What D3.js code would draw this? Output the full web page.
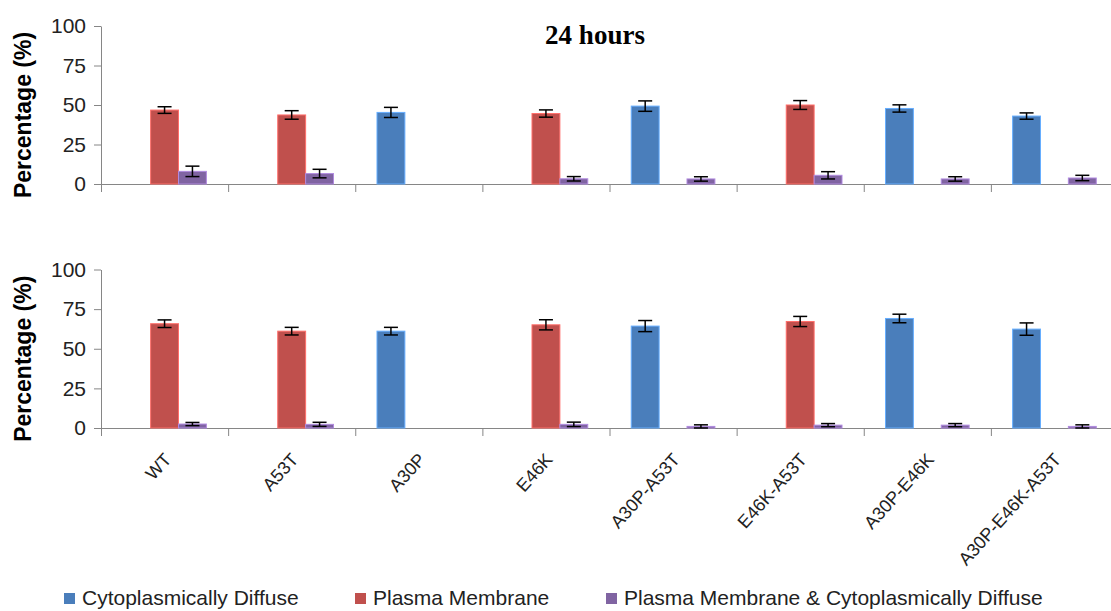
<!DOCTYPE html>
<html>
<head>
<meta charset="utf-8">
<script src="https://cdn.jsdelivr.net/npm/d3@7"></script>
<style>
  body { margin: 0; background: #fff; }
  svg { display: block; }
</style>
</head>
<body>
<div id="chart"></div>
<script>
const categories = ["WT", "A53T", "A30P", "E46K", "A30P-A53T", "E46K-A53T", "A30P-E46K", "A30P-E46K-A53T"];
const seriesNames = ["Cytoplasmically Diffuse", "Plasma Membrane", "Plasma Membrane & Cytoplasmically Diffuse"];
const seriesColors = ["#4a7ebb", "#c0504d", "#8064a2"];
const yTicks = [0, 25, 50, 75, 100];

// 24 hours (top panel)
const topDiffuse     = [null, null, 45.3, null, 49.3, null, 47.8, 43.0];
const topDiffuseErr  = [null, null, 3.2, null, 3.3, null, 2.3, 2.0];
const topMembrane    = [46.8, 43.7, null, 44.6, null, 50.0, null, null];
const topMembraneErr = [2.1, 2.7, null, 2.3, null, 2.8, null, null];
const topBoth        = [8.0, 6.6, null, 3.3, 3.2, 5.5, 3.2, 3.8];
const topBothErr     = [3.3, 2.7, null, 1.4, 1.4, 2.3, 1.4, 1.7];

// bottom panel
const botDiffuse     = [null, null, 61.1, null, 64.3, null, 69.1, 62.4];
const botDiffuseErr  = [null, null, 2.4, null, 3.5, null, 2.7, 3.9];
const botMembrane    = [65.8, 61.1, null, 65.1, null, 67.2, null, null];
const botMembraneErr = [2.4, 2.4, null, 3.2, null, 3.2, null, null];
const botBoth        = [2.5, 2.3, null, 2.3, 1.0, 1.8, 1.8, 1.0];
const botBothErr     = [1.0, 1.3, null, 1.4, 1.0, 1.0, 1.0, 1.0];

const width = 1111, height = 611;
const left = 101, right = 1118;
const axisColor = "#868686";

const svg = d3.select("#chart").append("svg")
  .attr("width", width)
  .attr("height", height);

const x = d3.scaleBand()
  .domain(categories)
  .range([left, right]);

const xSub = d3.scaleBand()
  .domain(d3.range(seriesNames.length))
  .range([0, x.bandwidth()])
  .paddingInner(0)
  .paddingOuter(0.78);

const xIdx = d3.scaleLinear()
  .domain([0, categories.length])
  .range([left, right]);

function drawPanel(yRange, values, errors) {
  const y = d3.scaleLinear().domain([0, 100]).range(yRange);
  const g = svg.append("g");

  // Y axis
  const yAxis = g.append("g")
    .attr("transform", "translate(" + left + ",0)")
    .call(d3.axisLeft(y).tickValues(yTicks).tickSize(7).tickSizeOuter(0).tickPadding(8));
  yAxis.select(".domain").attr("stroke", axisColor);
  yAxis.selectAll(".tick line").attr("stroke", axisColor);
  yAxis.selectAll("text")
    .attr("font-family", "Liberation Sans, Arial, sans-serif")
    .attr("font-size", 21)
    .attr("fill", "#222");

  // X axis (ticks at category boundaries)
  const xAxis = g.append("g")
    .attr("transform", "translate(0," + y(0) + ")")
    .call(d3.axisBottom(xIdx).tickValues(d3.range(categories.length)).tickSize(8).tickSizeOuter(0).tickFormat(""));
  xAxis.select(".domain").attr("stroke", axisColor);
  xAxis.selectAll(".tick line").attr("stroke", axisColor);

  // bars
  const rows = [];
  values.forEach((arr, s) => {
    arr.forEach((v, i) => {
      if (v !== null) rows.push({ cat: categories[i], s: s, v: v, e: errors[s][i] });
    });
  });

  g.selectAll("rect.bar")
    .data(rows)
    .enter()
    .append("rect")
    .attr("class", "bar")
    .attr("x", d => x(d.cat) + xSub(d.s))
    .attr("y", d => y(d.v))
    .attr("width", xSub.bandwidth())
    .attr("height", d => y(0) - y(d.v))
    .attr("fill", d => seriesColors[d.s])
    .attr("stroke", d => d3.color(seriesColors[d.s]).brighter(0.9))
    .attr("stroke-width", 1);

  // error bars
  const err = g.selectAll("g.err")
    .data(rows)
    .enter()
    .append("g")
    .attr("class", "err")
    .attr("stroke", "#000")
    .attr("stroke-width", 1.5);
  const cx = d => x(d.cat) + xSub(d.s) + xSub.bandwidth() / 2;
  err.append("line")
    .attr("x1", cx).attr("x2", cx)
    .attr("y1", d => y(d.v + d.e)).attr("y2", d => y(Math.max(0, d.v - d.e)));
  err.append("line")
    .attr("x1", d => cx(d) - 7).attr("x2", d => cx(d) + 7)
    .attr("y1", d => y(d.v + d.e)).attr("y2", d => y(d.v + d.e));
  err.append("line")
    .attr("x1", d => cx(d) - 7).attr("x2", d => cx(d) + 7)
    .attr("y1", d => y(Math.max(0, d.v - d.e))).attr("y2", d => y(Math.max(0, d.v - d.e)));

  // Y title
  const mid = (yRange[0] + yRange[1]) / 2 + 10;
  g.append("text")
    .attr("transform", "translate(31," + mid + ") rotate(-90)")
    .attr("text-anchor", "middle")
    .attr("font-family", "Liberation Sans, Arial, sans-serif")
    .attr("font-weight", "bold")
    .attr("font-size", 23)
    .attr("fill", "#000")
    .text("Percentage (%)");

  return y;
}

drawPanel([184, 26],
  [topDiffuse, topMembrane, topBoth],
  [topDiffuseErr, topMembraneErr, topBothErr]);

const yBot = drawPanel([428, 269.5],
  [botDiffuse, botMembrane, botBoth],
  [botDiffuseErr, botMembraneErr, botBothErr]);

// title
svg.append("text")
  .attr("x", 595)
  .attr("y", 44)
  .attr("text-anchor", "middle")
  .attr("font-family", "Liberation Serif, Times New Roman, serif")
  .attr("font-weight", "bold")
  .attr("font-size", 27)
  .text("24 hours");

// category labels, rotated
svg.append("g")
  .selectAll("text")
  .data(categories)
  .enter()
  .append("text")
  .attr("transform", d => "translate(" + (x(d) + x.bandwidth() / 2 + 3) + "," + (yBot(0) + 28) + ") rotate(-48)")
  .attr("text-anchor", "end")
  .attr("dy", "0.35em")
  .attr("font-family", "Liberation Sans, Arial, sans-serif")
  .attr("font-size", 18)
  .attr("fill", "#222")
  .text(d => d);

// legend
const legendX = [64, 355, 606];
const legend = svg.append("g")
  .selectAll("g")
  .data(seriesNames)
  .enter()
  .append("g")
  .attr("transform", (d, i) => "translate(" + legendX[i] + ",598)");
legend.append("rect")
  .attr("x", 0).attr("y", -5)
  .attr("width", 11).attr("height", 11)
  .attr("fill", (d, i) => seriesColors[i]);
legend.append("text")
  .attr("x", 18)
  .attr("dy", "0.35em")
  .attr("font-family", "Liberation Sans, Arial, sans-serif")
  .attr("font-size", 21)
  .attr("fill", "#222")
  .text(d => d);
</script>
</body>
</html>
